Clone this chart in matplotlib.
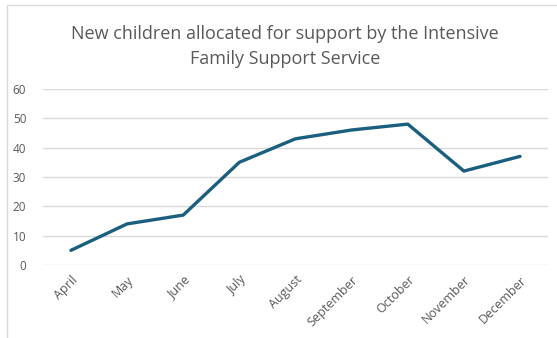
import matplotlib.pyplot as plt
from matplotlib.patches import Rectangle

# monthly counts of new children allocated
months = ["April", "May", "June", "July", "August", "September",
          "October", "November", "December"]
children = [5, 14, 17, 35, 43, 46, 48, 32, 37]
y_ticks = [0, 10, 20, 30, 40, 50, 60]

plt.rcParams['font.family'] = ['Open Sans', 'DejaVu Sans']
grey = "#595959"

fig = plt.figure(figsize=(5.57, 3.38), dpi=100)
ax = fig.add_axes([0.077, 0.216, 0.907, 0.521])

# chart area border (cropped at right and bottom in the original)
fig.patches.append(Rectangle((7 / 557, -0.1), 1.2, 1.1 - 5 / 338,
                             transform=fig.transFigure, fill=False,
                             edgecolor="#d9d9d9", linewidth=1))

ax.plot(months, children, color="#1b5f7f", linewidth=2.4,
        solid_capstyle="round", solid_joinstyle="round")

ax.set_ylim(0, 60)
ax.set_xlim(-0.5, len(months) - 0.5)
ax.set_yticks(y_ticks)
ax.grid(axis="y", color="#d9d9d9", linewidth=1)
ax.set_axisbelow(True)
for s in ax.spines.values():
    s.set_visible(False)
ax.tick_params(length=0, colors=grey, labelsize=8.5)
ax.tick_params(axis="x", labelsize=9, pad=6)
ax.tick_params(axis="y", pad=12)
plt.setp(ax.get_xticklabels(), rotation=45, ha="right",
         rotation_mode="anchor")

fig.text(0.512, 0.862, "New children allocated for support by the Intensive\nFamily Support Service",
         ha="center", va="center", fontsize=13, color=grey, linespacing=1.5)

fig.savefig("out.png", dpi=100)
